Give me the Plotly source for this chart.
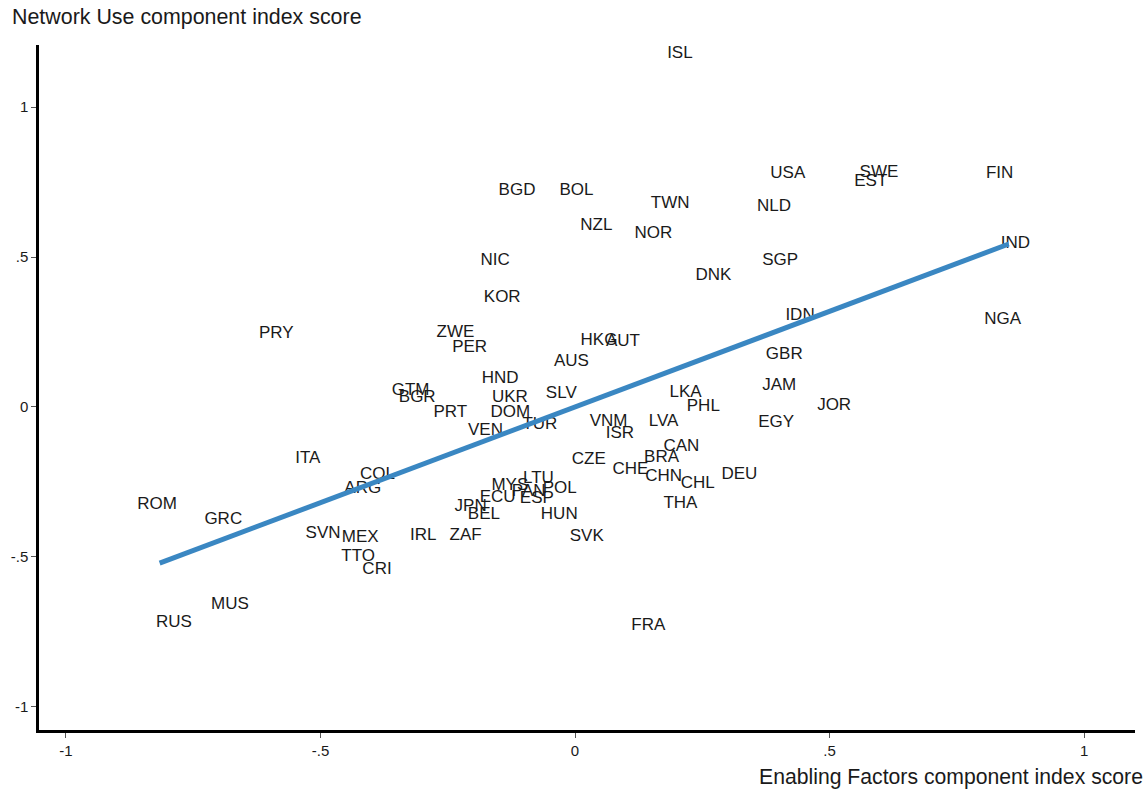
import plotly.graph_objects as go

# Country codes with Enabling Factors (x) and Network Use (y) component scores
countries = [
    "ISL", "USA", "SWE", "EST", "FIN", "BGD", "BOL", "TWN", "NLD", "NZL",
    "NOR", "IND", "NIC", "SGP", "DNK", "KOR", "PRY", "ZWE", "IDN", "NGA",
    "HKG", "AUT", "PER", "AUS", "GBR", "HND", "JAM", "GTM", "BGR", "UKR",
    "SLV", "LKA", "PHL", "JOR", "PRT", "DOM", "VNM", "LVA", "EGY", "TUR",
    "ISR", "VEN", "CAN", "ITA", "BRA", "CZE", "CHE", "CHN", "DEU", "COL",
    "LTU", "CHL", "ARG", "MYS", "POL", "PAN", "ECU", "ESP", "THA", "ROM",
    "JPN", "BEL", "HUN", "GRC", "SVN", "IRL", "ZAF", "MEX", "SVK", "TTO",
    "CRI", "MUS", "RUS", "FRA",
]
enabling = [
    0.206, 0.418, 0.597, 0.581, 0.834, -0.114, 0.003, 0.187, 0.391, 0.042,
    0.154, 0.865, -0.157, 0.403, 0.272, -0.143, -0.587, -0.235, 0.442, 0.840,
    0.047, 0.094, -0.207, -0.007, 0.411, -0.147, 0.401, -0.323, -0.310, -0.128,
    -0.027, 0.217, 0.252, 0.509, -0.245, -0.127, 0.066, 0.174, 0.395, -0.069,
    0.088, -0.176, 0.209, -0.525, 0.170, 0.027, 0.109, 0.174, 0.323, -0.388,
    -0.072, 0.241, -0.417, -0.128, -0.030, -0.091, -0.152, -0.075, 0.207, -0.821,
    -0.205, -0.179, -0.031, -0.691, -0.495, -0.298, -0.215, -0.422, 0.023, -0.426,
    -0.389, -0.678, -0.788, 0.144,
]
network_use = [
    1.179, 0.779, 0.782, 0.752, 0.779, 0.722, 0.722, 0.679, 0.669, 0.605,
    0.579, 0.545, 0.489, 0.489, 0.439, 0.365, 0.245, 0.249, 0.305, 0.292,
    0.222, 0.219, 0.199, 0.152, 0.175, 0.093, 0.072, 0.054, 0.032, 0.032,
    0.043, 0.049, 0.002, 0.005, -0.020, -0.020, -0.048, -0.048, -0.051, -0.060,
    -0.088, -0.079, -0.131, -0.171, -0.168, -0.177, -0.209, -0.231, -0.225, -0.225,
    -0.238, -0.255, -0.271, -0.262, -0.274, -0.282, -0.301, -0.305, -0.321, -0.325,
    -0.333, -0.359, -0.359, -0.375, -0.421, -0.428, -0.428, -0.435, -0.432, -0.498,
    -0.541, -0.661, -0.718, -0.731,
]

x_ticks = [-1, -0.5, 0, 0.5, 1]
x_tick_text = ["-1", "-.5", "0", ".5", "1"]
y_ticks = [-1, -0.5, 0, 0.5, 1]
y_tick_text = ["-1", "-.5", "0", ".5", "1"]

# Linear fit of Network Use on Enabling Factors, drawn over the fitted range
fit_slope = 0.638
fit_intercept = 0.0
fit_range = [-0.816, 0.852]

FONT = "Liberation Sans, Arial, sans-serif"
TXT = "#1a1a1a"

fit_x = fit_range
fit_y = [fit_slope * v + fit_intercept for v in fit_x]

fig = go.Figure()
fig.add_trace(go.Scatter(
    x=enabling, y=network_use, mode="text", text=countries,
    textposition="middle center",
    textfont=dict(family=FONT, size=17, color=TXT),
    hoverinfo="text", showlegend=False,
))
fig.add_trace(go.Scatter(
    x=fit_x, y=fit_y, mode="lines",
    line=dict(color="#3a87c2", width=5),
    showlegend=False, hoverinfo="skip",
))

axis_common = dict(
    showgrid=False, zeroline=False, showline=True, linecolor="black",
    linewidth=2.5, ticks="outside", ticklen=5, tickcolor="#555555",
    tickwidth=1, tickfont=dict(family=FONT, size=15, color=TXT),
)

fig.update_layout(
    width=1146, height=791,
    margin=dict(l=36, r=11, t=45, b=61),
    paper_bgcolor="white", plot_bgcolor="white",
    font=dict(family=FONT, color=TXT),
    xaxis=dict(range=[-1.053, 1.100], tickvals=x_ticks, ticktext=x_tick_text,
               **axis_common),
    yaxis=dict(range=[-1.077, 1.207], tickvals=y_ticks, ticktext=y_tick_text,
               **axis_common),
    annotations=[
        dict(text="Network Use component index score", xref="paper", yref="paper",
             x=-0.0265, y=1.0, xanchor="left", yanchor="bottom", yshift=14,
             showarrow=False, font=dict(family=FONT, size=21.4, color=TXT)),
        dict(text="Enabling Factors component index score", xref="paper", yref="paper",
             x=1.0, y=0.0, xanchor="right", yanchor="top", xshift=10, yshift=-33,
             showarrow=False, font=dict(family=FONT, size=21.2, color=TXT)),
    ],
)

fig.write_html("out.html")
